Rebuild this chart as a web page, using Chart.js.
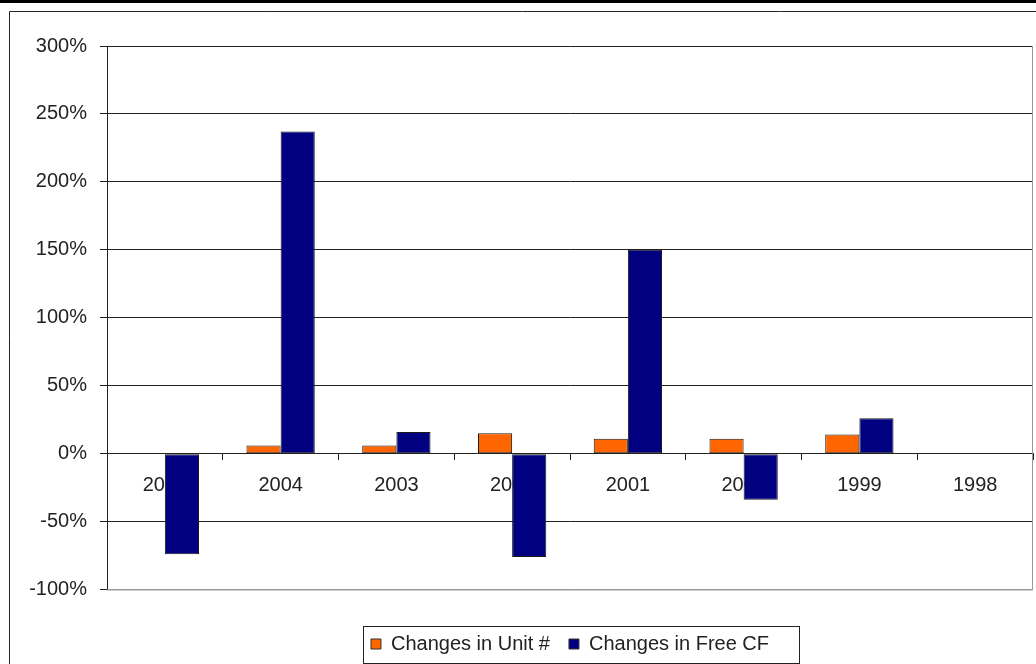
<!DOCTYPE html>
<html>
<head>
<meta charset="utf-8">
<script src="https://cdn.jsdelivr.net/npm/chart.js@4.4.1/dist/chart.umd.min.js"></script>
<style>
  html, body { margin: 0; padding: 0; background: #fff; }
  #wrap { position: relative; width: 1036px; height: 664px; }
</style>
</head>
<body>
<div id="wrap"><canvas id="chart"></canvas></div>
<script>
// categories (years, newest first as in the original sheet)
const years = ['2005', '2004', '2003', '2002', '2001', '2000', '1999', '1998'];
// year-over-year change, in percent
const unitChange = [null, 6, 6, 15, 11, 11, 14, null];
const freeCfChange = [-74, 237, 16, -76, 150, -34, 26, null];
// value axis
const yMin = -100;
const yMax = 300;
const yStep = 50;

const FONT = "'Liberation Sans', Arial, sans-serif";
const INK = '#222';

// outer frame, plot border and the boxed legend
const frame = {
  id: 'frame',
  beforeDraw(chart) {
    const ctx = chart.ctx;
    ctx.save();
    ctx.fillStyle = '#fff';
    ctx.fillRect(0, 0, chart.width, chart.height);
    ctx.fillStyle = '#000';
    ctx.fillRect(0, 0, chart.width, 3);
    ctx.strokeStyle = INK;
    ctx.lineWidth = 1;
    ctx.beginPath();
    ctx.moveTo(9.5, chart.height);
    ctx.lineTo(9.5, 11.5);
    ctx.lineTo(chart.width, 11.5);
    ctx.stroke();
    ctx.restore();
  },
  beforeDatasetsDraw(chart) {
    const { ctx, chartArea: a } = chart;
    ctx.save();
    ctx.strokeStyle = '#999';
    ctx.lineWidth = 1;
    ctx.beginPath();
    ctx.moveTo(a.left, a.bottom + 0.5);
    ctx.lineTo(Math.round(a.right) - 0.5, a.bottom + 0.5);
    ctx.lineTo(Math.round(a.right) - 0.5, a.top);
    ctx.stroke();
    ctx.restore();
  },
  afterDraw(chart) {
    const hb = chart.legend.legendHitBoxes;
    if (!hb || !hb.length) return;
    const ctx = chart.ctx;
    const first = hb[0];
    const last = hb[hb.length - 1];
    const mid = first.top + first.height / 2;
    const left = Math.round(first.left - 8) + 0.5;
    const right = Math.round(last.left + last.width + 30) + 0.5;
    ctx.save();
    ctx.strokeStyle = INK;
    ctx.lineWidth = 1;
    ctx.strokeRect(left, Math.round(mid - 18.5) + 0.5, right - left, 37);
    ctx.restore();
  }
};

new Chart(document.getElementById('chart'), {
  type: 'bar',
  data: {
    labels: years,
    datasets: [
      {
        label: 'Changes in Unit #',
        data: unitChange,
        backgroundColor: '#ff6600',
        borderColor: '#1a1a1a',
        borderWidth: 1,
        borderSkipped: false,
      },
      {
        label: 'Changes in Free CF',
        data: freeCfChange,
        backgroundColor: '#000080',
        borderColor: '#1a1a1a',
        borderWidth: 1,
        borderSkipped: false,
      },
    ],
  },
  options: {
    responsive: true,
    maintainAspectRatio: false,
    animation: false,
    datasets: {
      bar: { categoryPercentage: 0.59, barPercentage: 1.0 },
    },
    layout: {
      padding: { left: 29, top: 46, right: 3, bottom: 0 },
    },
    scales: {
      x: {
        position: { y: 0 },
        grid: {
          offset: true,
          drawOnChartArea: false,
          drawTicks: true,
          tickLength: 6,
          tickColor: INK,
        },
        border: { display: true, color: INK, width: 1 },
        ticks: {
          padding: 14,
          color: INK,
          maxRotation: 0,
          autoSkip: false,
          font: { family: FONT, size: 20 },
        },
      },
      y: {
        min: yMin,
        max: yMax,
        afterFit(scale) {
          scale.width = 78;
        },
        grid: {
          color: (c) => (c.tick && c.tick.value === yMin ? '#999' : INK),
          tickColor: INK,
          tickLength: 7,
        },
        border: { display: true, color: INK, width: 1 },
        ticks: {
          stepSize: yStep,
          padding: 13,
          color: INK,
          font: { family: FONT, size: 20 },
          callback: (v) => v + '%',
        },
      },
    },
    plugins: {
      legend: {
        position: 'bottom',
        fullSize: false,
        // empty title only used as a spacer above the legend row
        title: {
          display: true,
          text: ' ',
          font: { size: 10, lineHeight: 1 },
          padding: { top: 15.5, bottom: 0 },
        },
        labels: {
          boxWidth: 10,
          boxHeight: 10,
          padding: 19,
          color: INK,
          font: { family: FONT, size: 20 },
          generateLabels(chart) {
            return chart.data.datasets.map((ds, i) => ({
              text: ds.label,
              fillStyle: ds.backgroundColor,
              strokeStyle: '#333',
              fontColor: INK,
              lineWidth: 1,
              hidden: false,
              datasetIndex: i,
            }));
          },
        },
      },
      tooltip: { enabled: false },
    },
  },
  plugins: [frame],
});
</script>
</body>
</html>
